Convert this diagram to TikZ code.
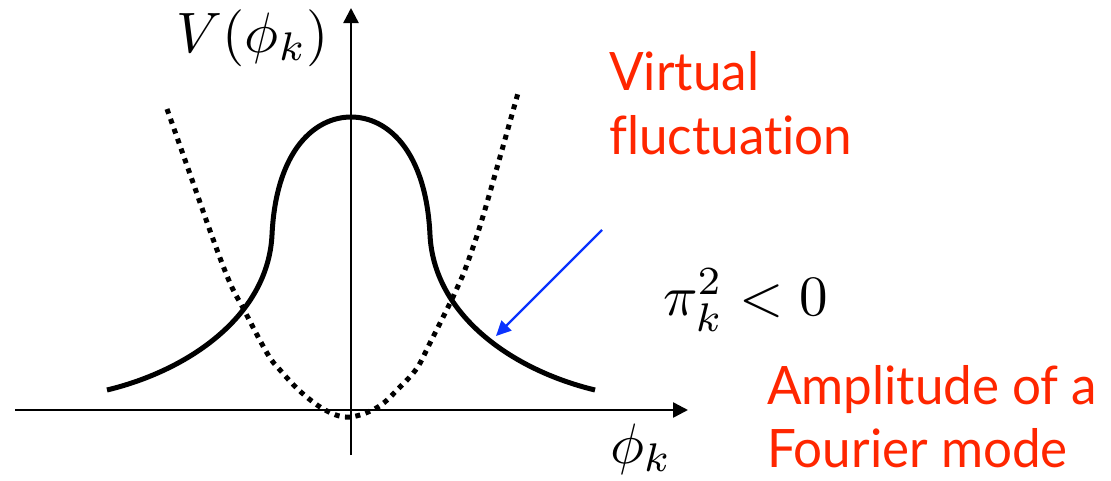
\documentclass[tikz,border=0pt]{standalone}
\usepackage{fontspec}
\newfontfamily\labelfont[FakeStretch=0.965,Ligatures=NoCommon]{Lato}
\usetikzlibrary{arrows.meta}
\definecolor{redlabel}{RGB}{255,38,0}
\definecolor{bluearrow}{RGB}{10,50,255}
\begin{document}
\begin{tikzpicture}[x=1pt,y=-1pt,
  axis/.style={line width=2.5pt,-{Triangle[length=15pt,width=15pt]}},
  solidcurve/.style={line width=5pt},
  dotcurve/.style={line width=5pt,dash pattern=on 5pt off 5.5pt},
  pointer/.style={bluearrow,line width=2.2pt,-{Triangle[length=15pt,width=14pt]}},
  mathlbl/.style={inner sep=0pt,scale=5.7},
  redtxt/.style={inner sep=0pt,anchor=base west,text=redlabel,font=\labelfont\fontsize{53}{64}\selectfont}]
\useasboundingbox (0,0) rectangle (1111,480);
% axes
\coordinate (xstart) at (15,410);
\coordinate (xend) at (688,410);
\coordinate (ystart) at (351,455);
\coordinate (yend) at (351,8);
\draw[axis] (xstart) -- (xend);
\draw[axis] (ystart) -- (yend);
% dotted parabola
\draw[dotcurve] plot[smooth,tension=0.6] coordinates {(167,109) (190,174) (213,239) (230,283) (243,308) (267,353) (280,370) (302,393) (327,411) (350,417) (378,407) (400,387) (417,368) (430,343) (453,297) (463,275) (480,226) (500,157) (518,93)};
% solid potential
\draw[solidcurve] (107,390) .. controls (190,370) and (268,315) .. (272,235)
  .. controls (276,150) and (315,117) .. (351,117)
  .. controls (387,117) and (426,150) .. (430,235)
  .. controls (434,315) and (512,370) .. (595,390);
% labels
\node[mathlbl,anchor=base] (vlabel) at (253,52) {$V(\phi_k)$};
\node[mathlbl,anchor=base] (philabel) at (641,463) {$\phi_k$};
\node[mathlbl,anchor=base west] (pilabel) at (662,315) {$\pi_k^2<0$};
\node[redtxt] (virt) at (609,90) {Virtual};
\node[redtxt] (fluct) at (609,154) {fluctuation};
\node[redtxt] (ampl) at (767,404) {Amplitude of a};
\node[redtxt] (four) at (767,467) {Fourier mode};
% blue arrow
\coordinate (bstart) at (602,230);
\coordinate (btip) at (496,336);
\draw[pointer] (bstart) -- (btip);
\end{tikzpicture}
\end{document}
